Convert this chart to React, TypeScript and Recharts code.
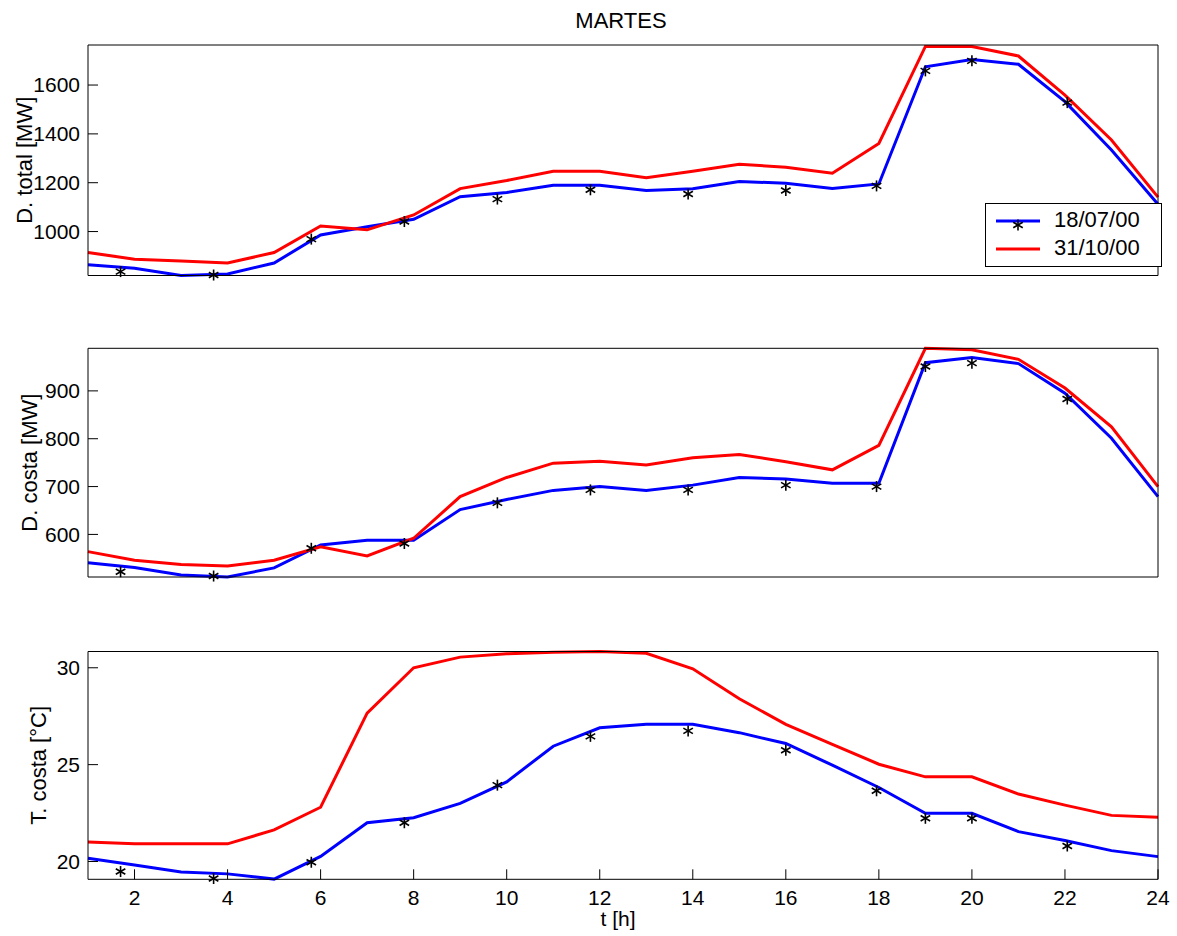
import { ComposedChart, Line, Scatter, XAxis, YAxis, Legend } from "recharts";

const HOURS = [1, 2, 3, 4, 5, 6, 7, 8, 9, 10, 11, 12, 13, 14, 15, 16, 17, 18, 19, 20, 21, 22, 23, 24];
const X_TICKS = [2, 4, 6, 8, 10, 12, 14, 16, 18, 20, 22, 24];

const JUL_NAME = "18/07/00";
const OCT_NAME = "31/10/00";

// D. total [MW]
const TOTAL_JUL = [864, 850, 820, 826, 871, 986, 1020, 1050, 1143, 1160, 1190, 1190, 1168, 1175, 1205, 1198, 1176, 1195, 1675, 1705, 1685, 1532, 1334, 1112];
const TOTAL_OCT = [914, 887, 879, 871, 914, 1023, 1007, 1068, 1176, 1209, 1247, 1247, 1220, 1247, 1276, 1263, 1239, 1361, 1758, 1758, 1719, 1559, 1375, 1141];

// D. costa [MW]
const COSTA_JUL = [541, 531, 515, 511, 530, 578, 588, 588, 652, 673, 692, 700, 692, 703, 719, 716, 707, 707, 959, 970, 957, 895, 801, 679];
const COSTA_OCT = [564, 546, 537, 534, 546, 574, 555, 592, 679, 719, 749, 753, 745, 760, 767, 752, 735, 786, 989, 986, 966, 906, 825, 700];

// T. costa [°C]
const TEMP_JUL = [20.17, 19.82, 19.46, 19.36, 19.09, 20.26, 22.0, 22.26, 23.0, 24.11, 25.95, 26.9, 27.08, 27.08, 26.65, 26.09, 24.97, 23.82, 22.49, 22.49, 21.54, 21.08, 20.56, 20.25];
const TEMP_OCT = [21.0, 20.91, 20.91, 20.91, 21.63, 22.8, 27.66, 30.0, 30.55, 30.72, 30.8, 30.84, 30.75, 29.95, 28.4, 27.08, 26.05, 25.02, 24.37, 24.37, 23.48, 22.91, 22.38, 22.28];

// asterisk markers (18/07/00)
const STAR_HOURS = [1.7, 3.7, 5.8, 7.8, 9.8, 11.8, 13.9, 16, 17.95, 19, 20, 22.05];
const STAR_TOTAL = [836, 822, 969, 1041, 1133, 1171, 1154, 1168, 1187, 1658, 1699, 1528];
const STAR_COSTA = [522, 513, 571, 581, 666, 693, 693, 703, 700, 951, 958, 883];
const STAR_TEMP = [19.48, 19.12, 19.96, 22.0, 23.94, 26.46, 26.74, 25.74, 23.65, 22.23, 22.23, 20.8];

const FONT = '"Liberation Sans", Arial, Helvetica, sans-serif';
const TICK = { fill: "#000", fontSize: 21, fontFamily: FONT };
const BLUE = "#0000ff";
const RED = "#ff0000";
const W = 1177;

function Star(props: any) {
  const { cx, cy } = props;
  if (cx == null || cy == null) return null;
  const r = 5.5;
  const dx = r * 0.866;
  const dy = r * 0.5;
  return (
    <g stroke="#000" strokeWidth={1.6}>
      <line x1={cx} y1={cy - r} x2={cx} y2={cy + r} />
      <line x1={cx - dx} y1={cy - dy} x2={cx + dx} y2={cy + dy} />
      <line x1={cx - dx} y1={cy + dy} x2={cx + dx} y2={cy - dy} />
    </g>
  );
}

function LegendBox() {
  const txt = { fontSize: 22, fontFamily: FONT, fill: "#000" };
  return (
    <svg width={178} height={65} style={{ display: "block" }}>
      <rect x={0.5} y={0.5} width={176} height={63} fill="#fff" stroke="#000" />
      <line x1={11} y1={18} x2={55} y2={18} stroke={BLUE} strokeWidth={3} />
      <Star cx={33} cy={22} />
      <text x={69} y={24} {...txt}>{JUL_NAME}</text>
      <line x1={11} y1={46} x2={55} y2={46} stroke={RED} strokeWidth={3} />
      <text x={69} y={52} {...txt}>{OCT_NAME}</text>
    </svg>
  );
}

interface PanelProps {
  top: number;
  height: number;
  plotTop: number;
  axisHeight: number;
  jul: number[];
  oct: number[];
  stars: number[];
  domain: [number, number];
  yTicks: number[];
  yTitle: string;
  titleX: number;
  bottomPanel?: boolean;
  legend?: boolean;
}

function Panel({ top, height, plotTop, axisHeight, jul, oct, stars, domain, yTicks, yTitle, titleX, bottomPanel, legend }: PanelProps) {
  const rows = HOURS.map((h, i) => ({ h, jul: jul[i], oct: oct[i] }));
  const starRows = STAR_HOURS.map((h, i) => ({ h, v: stars[i] }));

  const yLabel = (p: any) => {
    const vb = p.viewBox || { y: plotTop, height: height - plotTop - axisHeight };
    const cy = vb.y + vb.height / 2;
    return (
      <text x={titleX} y={cy} transform={`rotate(-90 ${titleX} ${cy})`} textAnchor="middle" fontSize={22} fontFamily={FONT} fill="#000">
        {yTitle}
      </text>
    );
  };

  const xLabel = (p: any) => {
    const vb = p.viewBox || { x: 88, y: height - axisHeight, width: 1070 };
    const cx = vb.x + vb.width / 2 - 5;
    return (
      <text x={cx} y={vb.y + 47} textAnchor="middle" fontSize={21} fontFamily={FONT} fill="#000">
        t [h]
      </text>
    );
  };

  return (
    <div style={{ position: "absolute", left: 0, top, width: W, height }}>
      <ComposedChart width={W} height={height} data={rows} margin={{ top: plotTop - 1, right: 18, bottom: 0, left: 0 }}>
        <XAxis
          xAxisId="b"
          dataKey="h"
          type="number"
          domain={[1, 24]}
          ticks={X_TICKS}
          height={axisHeight}
          tickSize={-10}
          tickMargin={20.5}
          tick={bottomPanel ? TICK : false}
          stroke="#000"
          label={bottomPanel ? xLabel : undefined}
        />
        <XAxis xAxisId="t" orientation="top" type="number" domain={[1, 24]} ticks={X_TICKS} height={1} tickSize={-10} tick={false} stroke="#000" />
        <YAxis
          yAxisId="l"
          type="number"
          domain={domain}
          ticks={yTicks}
          width={88}
          tickSize={-10}
          tickMargin={18}
          tick={TICK}
          stroke="#000"
          label={yLabel}
        />
        <YAxis yAxisId="r" orientation="right" type="number" domain={domain} ticks={yTicks} width={1} tickSize={-10} tick={false} stroke="#000" />
        <Line xAxisId="b" yAxisId="l" type="linear" dataKey="jul" name={JUL_NAME} stroke={BLUE} strokeWidth={3} dot={false} isAnimationActive={false} />
        <Line xAxisId="b" yAxisId="l" type="linear" dataKey="oct" name={OCT_NAME} stroke={RED} strokeWidth={3} dot={false} isAnimationActive={false} />
        <Scatter xAxisId="b" yAxisId="l" data={starRows} dataKey="v" shape={<Star />} isAnimationActive={false} legendType="none" />
        {legend && (
          <Legend
            layout="horizontal"
            verticalAlign="middle"
            align="center"
            content={() => <LegendBox />}
            wrapperStyle={{ left: 985, top: 203, width: 178, height: 65 }}
          />
        )}
      </ComposedChart>
    </div>
  );
}

export default function App() {
  return (
    <div style={{ position: "absolute", left: 0, top: 0, width: W, height: 936, background: "#fff", fontFamily: FONT }}>
      <div style={{ position: "absolute", left: 521, top: 10, width: 200, textAlign: "center", fontSize: 22, lineHeight: "22px", color: "#000" }}>
        MARTES
      </div>
      <Panel
        top={0}
        height={300}
        plotTop={45}
        axisHeight={24.5}
        jul={TOTAL_JUL}
        oct={TOTAL_OCT}
        stars={STAR_TOTAL}
        domain={[820, 1764]}
        yTicks={[1000, 1200, 1400, 1600]}
        yTitle="D. total [MW]"
        titleX={31.5}
        legend
      />
      <Panel
        top={300}
        height={300}
        plotTop={48.3}
        axisHeight={23}
        jul={COSTA_JUL}
        oct={COSTA_OCT}
        stars={STAR_COSTA}
        domain={[511, 989]}
        yTicks={[600, 700, 800, 900]}
        yTitle="D. costa [MW]"
        titleX={37.5}
      />
      <Panel
        top={600}
        height={336}
        plotTop={51.5}
        axisHeight={56.7}
        jul={TEMP_JUL}
        oct={TEMP_OCT}
        stars={STAR_TEMP}
        domain={[19.08, 30.84]}
        yTicks={[20, 25, 30]}
        yTitle="T. costa [°C]"
        titleX={46.5}
        bottomPanel
      />
    </div>
  );
}
